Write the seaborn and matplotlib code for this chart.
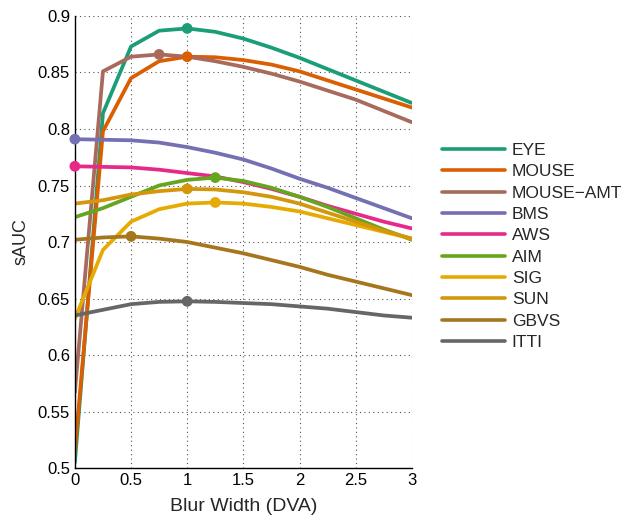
import numpy as np
import pandas as pd
import matplotlib
matplotlib.use("Agg")
import matplotlib.pyplot as plt
import seaborn as sns
from matplotlib.ticker import FormatStrFormatter

# blur widths (DVA)
blur = [0, 0.25, 0.5, 0.75, 1, 1.25, 1.5, 1.75, 2, 2.25, 2.5, 2.75, 3]

# sAUC per model
eye       = [0.505, 0.814, 0.873, 0.887, 0.889, 0.886, 0.880, 0.872, 0.863, 0.853, 0.843, 0.833, 0.823]
mouse     = [0.515, 0.798, 0.845, 0.860, 0.864, 0.8635, 0.861, 0.857, 0.851, 0.843, 0.835, 0.827, 0.819]
mouse_amt = [0.567, 0.851, 0.864, 0.866, 0.864, 0.860, 0.855, 0.849, 0.842, 0.834, 0.826, 0.816, 0.806]
bms       = [0.791, 0.7905, 0.790, 0.788, 0.784, 0.779, 0.773, 0.765, 0.756, 0.748, 0.739, 0.730, 0.721]
aws       = [0.767, 0.7665, 0.766, 0.764, 0.761, 0.758, 0.753, 0.747, 0.740, 0.732, 0.725, 0.718, 0.712]
aim       = [0.722, 0.730, 0.740, 0.750, 0.755, 0.757, 0.754, 0.748, 0.740, 0.731, 0.721, 0.711, 0.702]
sig       = [0.632, 0.693, 0.718, 0.729, 0.734, 0.735, 0.734, 0.731, 0.727, 0.721, 0.715, 0.709, 0.703]
sun       = [0.734, 0.737, 0.742, 0.745, 0.747, 0.7465, 0.744, 0.740, 0.734, 0.726, 0.718, 0.710, 0.703]
gbvs      = [0.702, 0.704, 0.705, 0.703, 0.700, 0.695, 0.690, 0.684, 0.678, 0.671, 0.665, 0.659, 0.653]
itti      = [0.635, 0.640, 0.645, 0.647, 0.6475, 0.647, 0.646, 0.645, 0.643, 0.641, 0.638, 0.635, 0.633]

names = ["EYE", "MOUSE", "MOUSE\u2212AMT", "BMS", "AWS", "AIM", "SIG", "SUN", "GBVS", "ITTI"]
series = [eye, mouse, mouse_amt, bms, aws, aim, sig, sun, gbvs, itti]
colors = ["#1b9e77", "#d95f02", "#a86a5c", "#7570b3", "#e7298a",
          "#66a61e", "#e6ab02", "#d4960a", "#a6761d", "#666666"]
palette = dict(zip(names, colors))

df = pd.DataFrame([(n, b, v) for n, s in zip(names, series) for b, v in zip(blur, s)],
                  columns=["model", "blur", "sauc"])

sns.set_style("white")
plt.rcParams['font.family'] = ['Liberation Sans', 'DejaVu Sans']

fig = plt.figure(figsize=(6.24, 5.16), dpi=100)
ax = fig.add_axes([0.12, 0.093, 0.54, 0.876])

sns.lineplot(data=df, x="blur", y="sauc", hue="model", palette=palette,
             hue_order=names, linewidth=2.7, ax=ax)

# marker at each model's best blur width
best = df.loc[df.groupby("model")["sauc"].idxmax()]
sns.scatterplot(data=best, x="blur", y="sauc", hue="model", palette=palette,
                s=60, edgecolor="none", legend=False, zorder=5, clip_on=False, ax=ax)

ax.set_xlim(0, 3)
ax.set_ylim(0.5, 0.9)
ax.set_xticks([0, 0.5, 1, 1.5, 2, 2.5, 3])
ax.set_yticks(np.arange(0.5, 0.901, 0.05))
ax.xaxis.set_major_formatter(FormatStrFormatter('%g'))
ax.yaxis.set_major_formatter(FormatStrFormatter('%g'))
ax.grid(True, linestyle=(0, (1, 3)), color="#555555", linewidth=0.8)
ax.tick_params(direction="in", length=4, labelsize=12, colors="black")
for side in ["top", "right"]:
    ax.spines[side].set_visible(False)
for side in ["left", "bottom"]:
    ax.spines[side].set_color("black")
    ax.spines[side].set_linewidth(1.0)

ax.set_xlabel("Blur Width (DVA)", fontsize=14, labelpad=7)
ax.set_ylabel("sAUC", fontsize=13, labelpad=6)

leg = ax.legend(loc="center left", bbox_to_anchor=(1.089, 0.49), frameon=False,
                fontsize=12.5, handlelength=3.63, handletextpad=0.4, labelspacing=0.355,
                borderaxespad=0, borderpad=0)
for line in leg.get_lines():
    line.set_linewidth(2.6)

fig.savefig("out.png", dpi=100)
